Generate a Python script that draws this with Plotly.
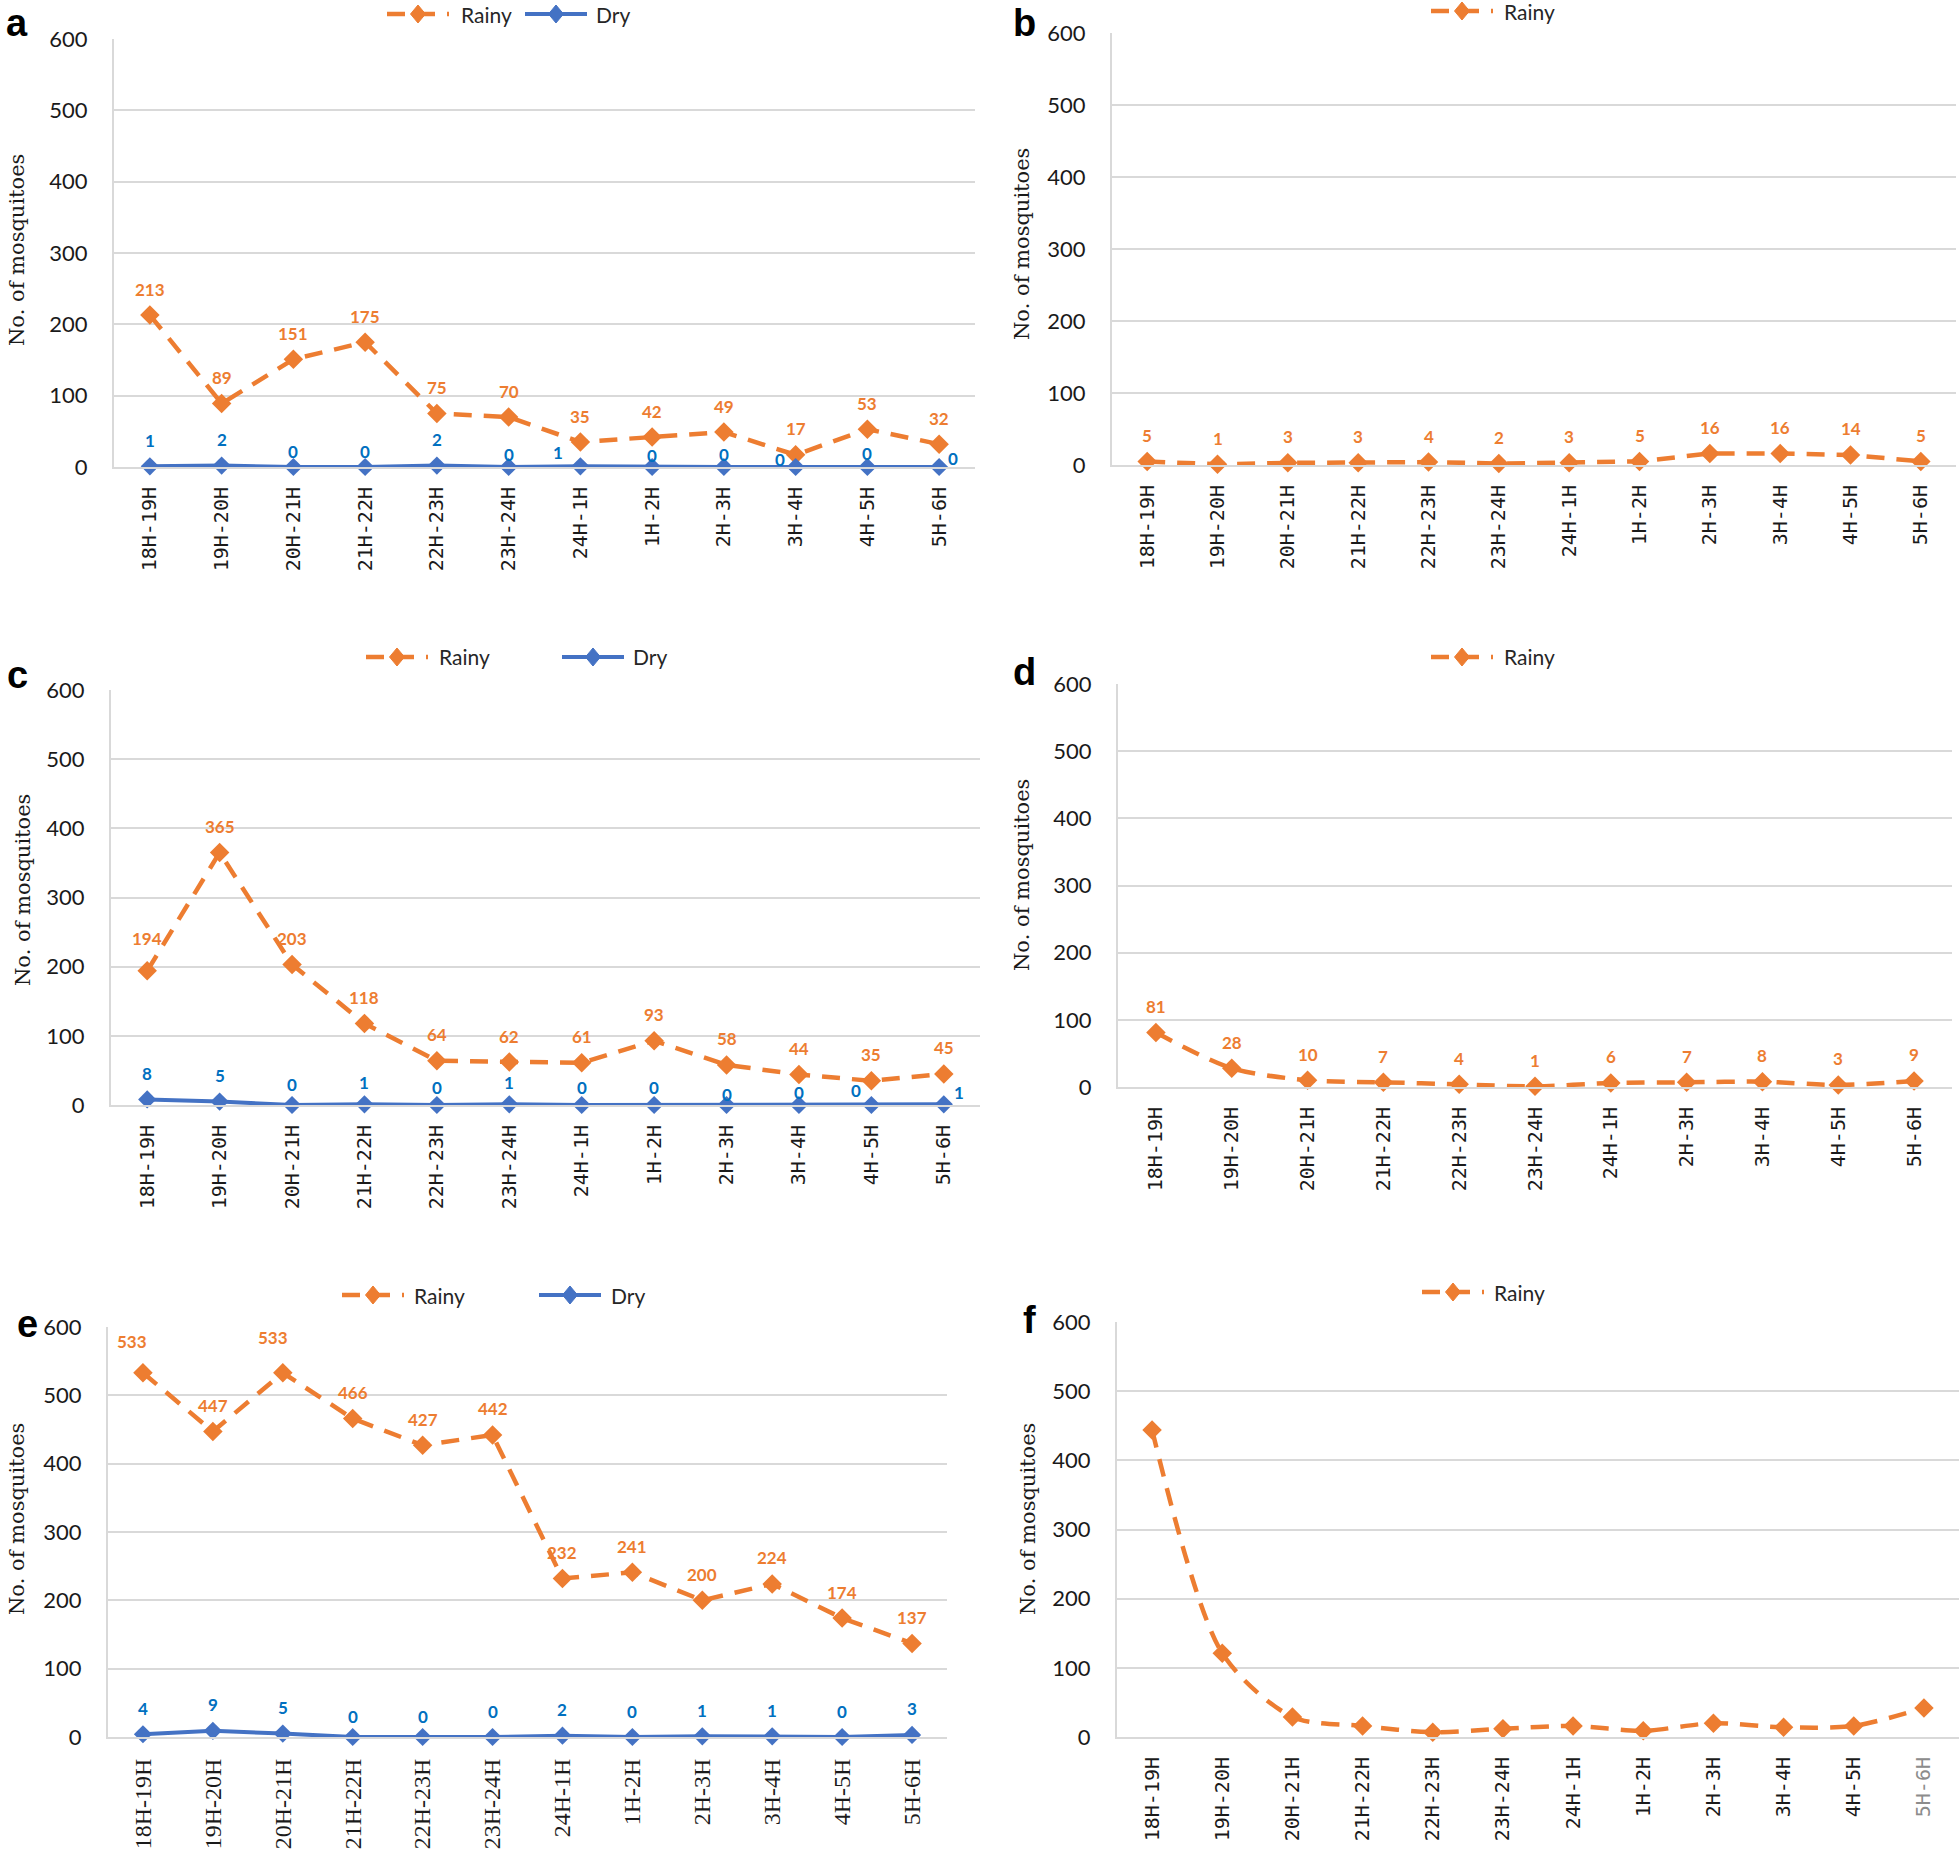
import plotly.graph_objects as go

# ---------------- data ----------------
cats12 = ["18H-19H", "19H-20H", "20H-21H", "21H-22H", "22H-23H", "23H-24H",
          "24H-1H", "1H-2H", "2H-3H", "3H-4H", "4H-5H", "5H-6H"]
cats_d = ["18H-19H", "19H-20H", "20H-21H", "21H-22H", "22H-23H", "23H-24H",
          "24H-1H", "2H-3H", "3H-4H", "4H-5H", "5H-6H"]

a_rainy = [213, 89, 151, 175, 75, 70, 35, 42, 49, 17, 53, 32]
a_dry = [1, 2, 0, 0, 2, 0, 1, 0, 0, 0, 0, 0]
b_rainy = [5, 1, 3, 3, 4, 2, 3, 5, 16, 16, 14, 5]
c_rainy = [194, 365, 203, 118, 64, 62, 61, 93, 58, 44, 35, 45]
c_dry = [8, 5, 0, 1, 0, 1, 0, 0, 0, 0, 0, 1]
d_rainy = [81, 28, 10, 7, 4, 1, 6, 7, 8, 3, 9]
e_rainy = [533, 447, 533, 466, 427, 442, 232, 241, 200, 224, 174, 137]
e_dry = [4, 9, 5, 0, 0, 0, 2, 0, 1, 1, 0, 3]
f_rainy = [444, 121, 29, 16, 7, 12, 16, 9, 20, 14, 16, 42]

y_ticks = [0, 100, 200, 300, 400, 500, 600]

# ---------------- styles ----------------
W, H = 1960, 1850
ORANGE = "#ED7D31"
BLUE = "#4472C4"
ORANGE_TXT = "#ED7D31"
BLUE_TXT = "#0070C0"
GRID = "#D9D9D9"
DASH = "18px,12px"


def fx(px):
    return px / W


def fy(py):
    return 1 - py / H


# panel geometry in pixels: (left, right, top, bottom)
panels = {
    "a": dict(box=(114, 975, 39, 467), cats=cats12, rainy=a_rainy, dry=a_dry,
              spline=False, xfont="DejaVu Sans Mono", xsize=20,
              ytitle=(17, 250), letter=(17, 0),
              legend=[("Rainy", 387, 459, 14), ("Dry", 525, 594, 14)]),
    "b": dict(box=(1112, 1956, 33, 465), cats=cats12, rainy=b_rainy, dry=None,
              spline=False, xfont="DejaVu Sans Mono", xsize=20,
              ytitle=(1022, 244), letter=(1024, 0),
              legend=[("Rainy", 1431, 1502, 11)]),
    "c": dict(box=(111, 980, 690, 1105), cats=cats12, rainy=c_rainy, dry=c_dry,
              spline=False, xfont="DejaVu Sans Mono", xsize=20,
              ytitle=(23, 890), letter=(17, 652),
              legend=[("Rainy", 366, 437, 657), ("Dry", 562, 631, 657)]),
    "d": dict(box=(1118, 1952, 684, 1087), cats=cats_d, rainy=d_rainy, dry=None,
              spline=True, xfont="DejaVu Sans Mono", xsize=20,
              ytitle=(1022, 875), letter=(1024, 649),
              legend=[("Rainy", 1431, 1502, 657)]),
    "e": dict(box=(108, 947, 1327, 1737), cats=cats12, rainy=e_rainy, dry=e_dry,
              spline=False, xfont="Liberation Serif", xsize=24,
              ytitle=(17, 1519), letter=(27, 1301),
              legend=[("Rainy", 342, 412, 1295), ("Dry", 539, 609, 1295)]),
    "f": dict(box=(1117, 1959, 1322, 1737), cats=cats12, rainy=f_rainy, dry=None,
              spline=True, xfont="DejaVu Sans Mono", xsize=20,
              ytitle=(1028, 1519), letter=(1029, 1297),
              legend=[("Rainy", 1422, 1492, 1292)], nolabels=True,
              grey_last_tick=True),
}

# label nudges (dx, dy) in px for specific points
nudges = {
    ("a", "dry", 2): (0, 16), ("a", "dry", 3): (0, 16), ("a", "dry", 5): (0, 13),
    ("a", "dry", 6): (-22, 14), ("a", "dry", 7): (0, 12), ("a", "dry", 8): (0, 13),
    ("a", "dry", 9): (-16, 8), ("a", "dry", 10): (0, 14), ("a", "dry", 11): (14, 9),
    ("c", "rainy", 0): (0, 32),
    ("c", "dry", 2): (0, 21), ("c", "dry", 3): (0, 22), ("c", "dry", 4): (0, 18),
    ("c", "dry", 5): (0, 22), ("c", "dry", 6): (0, 18), ("c", "dry", 7): (0, 18),
    ("c", "dry", 8): (0, 11), ("c", "dry", 9): (0, 13), ("c", "dry", 10): (-15, 15),
    ("c", "dry", 11): (15, 12),
    ("e", "rainy", 0): (-11, 31), ("e", "rainy", 2): (-10, 35),
    ("e", "dry", 3): (0, 21), ("e", "dry", 4): (0, 21),
}

fig = go.Figure()
annotations = []
shapes = []
layout = dict(
    width=W, height=H,
    margin=dict(l=0, r=0, t=0, b=0, autoexpand=False),
    paper_bgcolor="white", plot_bgcolor="white",
    showlegend=False,
)


def legend_entry(name, x0, tx, yc):
    """Draw a legend entry manually: line sample, diamond marker and label."""
    col = ORANGE if name == "Rainy" else BLUE
    L = 62
    shapes.append(dict(
        type="line", xref="paper", yref="paper",
        x0=fx(x0), x1=fx(x0 + L), y0=fy(yc), y1=fy(yc),
        line=dict(color=col, width=4.5 if name == "Rainy" else 4,
                  dash=DASH if name == "Rainy" else "solid"),
    ))
    cx = x0 + L / 2
    hw, hh = 7.5, 9
    path = "M %f %f L %f %f L %f %f L %f %f Z" % (
        fx(cx - hw), fy(yc), fx(cx), fy(yc - hh), fx(cx + hw), fy(yc), fx(cx), fy(yc + hh))
    shapes.append(dict(type="path", xref="paper", yref="paper", path=path,
                       fillcolor=col, line=dict(color=col, width=1)))
    annotations.append(dict(
        text=name, x=fx(tx), y=fy(yc), xref="paper", yref="paper",
        showarrow=False, xanchor="left", yanchor="middle",
        font=dict(family="Lato", size=21, color="#262626"),
    ))


for i, (key, p) in enumerate(panels.items()):
    n = i + 1
    sfx = "" if n == 1 else str(n)
    xa, ya = "x" + sfx, "y" + sfx
    left, right, top, bottom = p["box"]
    cats = p["cats"]
    shape = "spline" if p["spline"] else "linear"

    fig.add_trace(go.Scatter(
        x=cats, y=p["rainy"], name="Rainy", mode="lines+markers",
        line=dict(color=ORANGE, width=4.5, dash=DASH, shape=shape, smoothing=0.8),
        marker=dict(symbol="diamond", size=15, color=ORANGE),
        xaxis=xa, yaxis=ya, cliponaxis=False, showlegend=False,
    ))
    if p["dry"] is not None:
        fig.add_trace(go.Scatter(
            x=cats, y=p["dry"], name="Dry", mode="lines+markers",
            line=dict(color=BLUE, width=4),
            marker=dict(symbol="diamond", size=14, color=BLUE),
            xaxis=xa, yaxis=ya, cliponaxis=False, showlegend=False,
        ))

    ticktext = list(cats)
    if p.get("grey_last_tick"):
        ticktext[-1] = "<span style='color:#8c8c8c'>%s</span>" % cats[-1]

    layout["xaxis" + sfx] = dict(
        domain=[fx(left), fx(right)], anchor=ya, type="category",
        categoryorder="array", categoryarray=cats,
        tickvals=cats, ticktext=ticktext,
        range=[-0.5, len(cats) - 0.5],
        showgrid=False, showline=True, linecolor=GRID, linewidth=2,
        ticks="", tickangle=-90, ticklabelstandoff=10,
        tickfont=dict(family=p["xfont"], size=p["xsize"], color="#1a1a1a"),
        fixedrange=True,
    )
    layout["yaxis" + sfx] = dict(
        domain=[fy(bottom), fy(top)], anchor=xa,
        range=[0, 600], tickvals=y_ticks,
        showgrid=True, gridcolor=GRID, gridwidth=2,
        showline=True, linecolor=GRID, linewidth=2,
        zeroline=False, ticks="", ticklabelstandoff=20,
        tickfont=dict(family="Lato", size=22, color="#1a1a1a"),
        fixedrange=True,
    )

    for name, x0, tx, yc in p["legend"]:
        legend_entry(name, x0, tx, yc)

    # y title
    tx, ty = p["ytitle"]
    annotations.append(dict(
        text="No. of mosquitoes", x=fx(tx), y=fy(ty), xref="paper", yref="paper",
        textangle=-90, showarrow=False, xanchor="center", yanchor="middle",
        font=dict(family="DejaVu Serif", size=21, color="#1a1a1a"),
    ))
    # panel letter (top of text box at given y)
    lx2, ly2 = p["letter"]
    annotations.append(dict(
        text="<b>%s</b>" % key, x=fx(lx2), y=fy(ly2), xref="paper", yref="paper",
        showarrow=False, xanchor="center", yanchor="top",
        font=dict(family="Liberation Sans", size=38, color="black"),
    ))

    # data labels
    if not p.get("nolabels"):
        series = [("rainy", p["rainy"], ORANGE_TXT)]
        if p["dry"] is not None:
            series.append(("dry", p["dry"], BLUE_TXT))
        for sname, vals, col in series:
            for j, v in enumerate(vals):
                dx, dy = nudges.get((key, sname, j), (0, 26))
                annotations.append(dict(
                    text=str(v), x=cats[j], y=v, xref=xa, yref=ya,
                    showarrow=False, xanchor="center", yanchor="middle",
                    xshift=dx, yshift=dy,
                    font=dict(family="Lato", size=17, color=col, weight="bold"),
                ))

layout["annotations"] = annotations
layout["shapes"] = shapes
fig.update_layout(**layout)
fig.write_html("out.html",
               config={"displayModeBar": False},
               post_script="document.body.style.margin='0';document.body.style.overflow='hidden';")
